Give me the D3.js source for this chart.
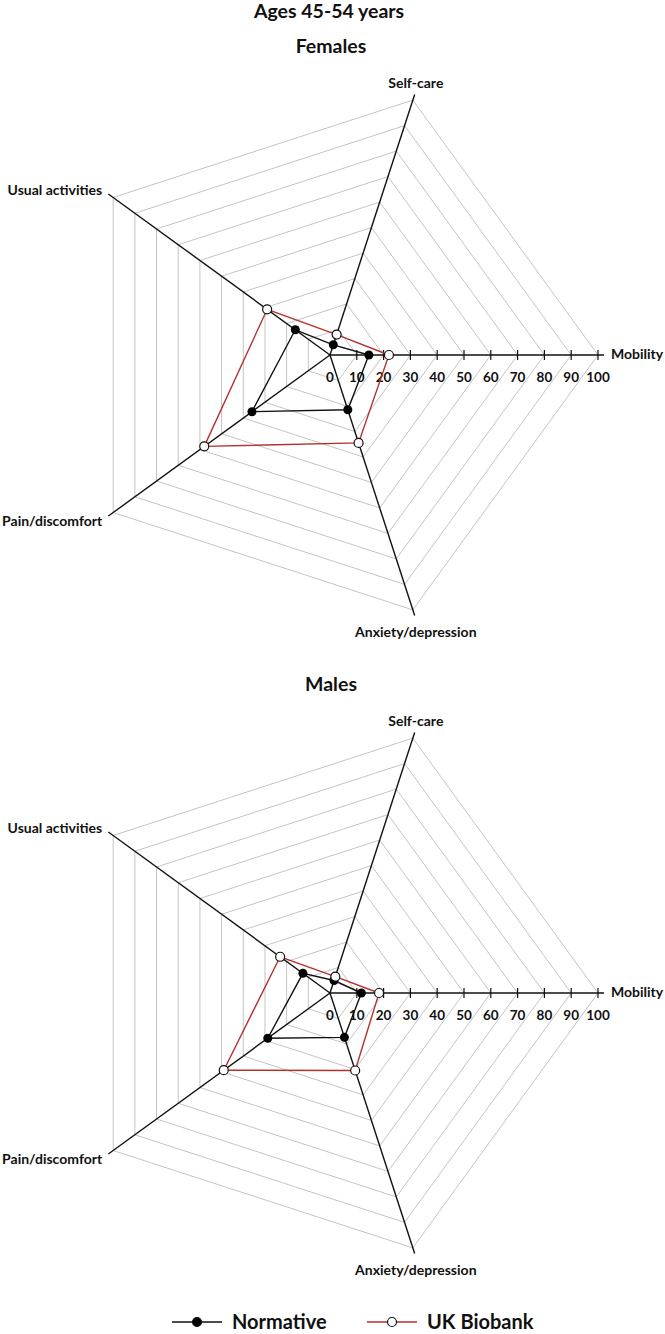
<!DOCTYPE html>
<html lang="en">
<head>
    <meta charset="UTF-8">
    <title>EQ-5D radar, ages 45-54</title>
    <script src="https://d3js.org/d3.v7.min.js"></script>
    <style>
        body { margin: 0; background: #fff; }
        text { font-family: Lato, "Open Sans", sans-serif; font-weight: 700; fill: #111; }
        .grid { fill: none; stroke: #c4c4c4; stroke-width: 1px; }
        .axis { stroke: #111; stroke-width: 1.4px; }
        .tick { stroke: #111; stroke-width: 1.2px; }
        .axis-label { font-size: 14px; }
        .tick-label { font-size: 13.5px; }
        .title { font-size: 19.5px; }
    </style>
</head>
<body>
    <div id="chart"></div>
    <script>
        var dimensions = ["Mobility", "Self-care", "Usual activities", "Pain/discomfort", "Anxiety/depression"];
        var tickValues = [0, 10, 20, 30, 40, 50, 60, 70, 80, 90, 100];
        var seriesNames = ["Normative", "UK Biobank"];

        // % reporting any problem
        var femaleNormative = [14.5, 4.0, 16.0, 36.0, 21.5];
        var femaleBiobank = [22.0, 8.0, 29.0, 58.0, 34.5];
        var maleNormative = [11.7, 4.9, 12.5, 28.7, 17.4];
        var maleBiobank = [18.3, 6.4, 23.0, 49.0, 30.4];

        var width = 665, height = 1334;
        var svg = d3.select("#chart").append("svg")
            .attr("width", width)
            .attr("height", height);

        var r = d3.scaleLinear().domain([0, 100]).range([0, 268]);
        var angle = d3.scaleLinear().domain([0, dimensions.length]).range([0, 2 * Math.PI]);

        function pt(i, v) {
            var a = angle(i);
            return [r(v) * Math.cos(a), -r(v) * Math.sin(a)];
        }

        svg.append("text").attr("class", "title")
            .attr("x", 329).attr("y", 18).attr("text-anchor", "middle")
            .text("Ages 45-54 years");

        // label offsets per axis: [dx, dy, anchor] relative to the 100 vertex
        var labelPos = [
            [13, 4, "start"],
            [3, -12, "middle"],
            [-11, -2, "end"],
            [-11, 13, "end"],
            [3, 27, "middle"]
        ];

        function radar(cy, title, normative, biobank) {
            var g = svg.append("g").attr("transform", "translate(330," + cy + ")");

            svg.append("text").attr("class", "title")
                .attr("x", 331).attr("y", cy - 302).attr("text-anchor", "middle")
                .text(title);

            g.selectAll(".grid")
                .data(tickValues.slice(1))
                .enter().append("polygon")
                .attr("class", "grid")
                .attr("points", v => dimensions.map((d, i) => pt(i, v).join(",")).join(" "));

            var ext = r.invert(r(100) + 6);
            g.selectAll(".axis")
                .data(dimensions)
                .enter().append("line")
                .attr("class", "axis")
                .attr("x1", 0).attr("y1", 0)
                .attr("x2", (d, i) => pt(i, ext)[0])
                .attr("y2", (d, i) => pt(i, ext)[1]);

            g.selectAll(".tick")
                .data(tickValues.slice(1))
                .enter().append("line")
                .attr("class", "tick")
                .attr("x1", v => r(v)).attr("x2", v => r(v))
                .attr("y1", -5).attr("y2", 5);

            g.selectAll(".tick-label")
                .data(tickValues)
                .enter().append("text")
                .attr("class", "tick-label")
                .attr("x", v => r(v)).attr("y", 27)
                .attr("text-anchor", "middle")
                .text(v => v);

            g.selectAll(".axis-label")
                .data(dimensions)
                .enter().append("text")
                .attr("class", "axis-label")
                .attr("x", (d, i) => pt(i, 100)[0] + labelPos[i][0])
                .attr("y", (d, i) => pt(i, 100)[1] + labelPos[i][1])
                .attr("text-anchor", (d, i) => labelPos[i][2])
                .text(d => d);

            var line = d3.line().curve(d3.curveLinearClosed);

            g.append("path")
                .attr("d", line(biobank.map((v, i) => pt(i, v))))
                .attr("fill", "none").attr("stroke", "#b5312e").attr("stroke-width", 1.4);
            g.append("path")
                .attr("d", line(normative.map((v, i) => pt(i, v))))
                .attr("fill", "none").attr("stroke", "#111").attr("stroke-width", 1.4);

            g.selectAll(".dot-n")
                .data(normative)
                .enter().append("circle")
                .attr("cx", (v, i) => pt(i, v)[0]).attr("cy", (v, i) => pt(i, v)[1])
                .attr("r", 4.5).attr("fill", "#000");
            g.selectAll(".dot-b")
                .data(biobank)
                .enter().append("circle")
                .attr("cx", (v, i) => pt(i, v)[0]).attr("cy", (v, i) => pt(i, v)[1])
                .attr("r", 4.5).attr("fill", "#fff").attr("stroke", "#111").attr("stroke-width", 1.2);
        }

        radar(355, "Females", femaleNormative, femaleBiobank);
        radar(993, "Males", maleNormative, maleBiobank);

        // legend
        var legend = svg.append("g").attr("transform", "translate(0,1322)");
        var legendX = [172, 367];
        seriesNames.forEach(function (name, k) {
            var x0 = legendX[k];
            legend.append("line")
                .attr("x1", x0).attr("x2", x0 + 50).attr("y1", 0).attr("y2", 0)
                .attr("stroke", k ? "#b5312e" : "#111").attr("stroke-width", 1.6);
            legend.append("circle")
                .attr("cx", x0 + 25).attr("cy", 0).attr("r", 4.5)
                .attr("fill", k ? "#fff" : "#000").attr("stroke", "#111").attr("stroke-width", 1.2);
            legend.append("text")
                .attr("x", x0 + 60).attr("y", 7)
                .style("font-size", "20px")
                .text(name);
        });
    </script>
</body>
</html>
